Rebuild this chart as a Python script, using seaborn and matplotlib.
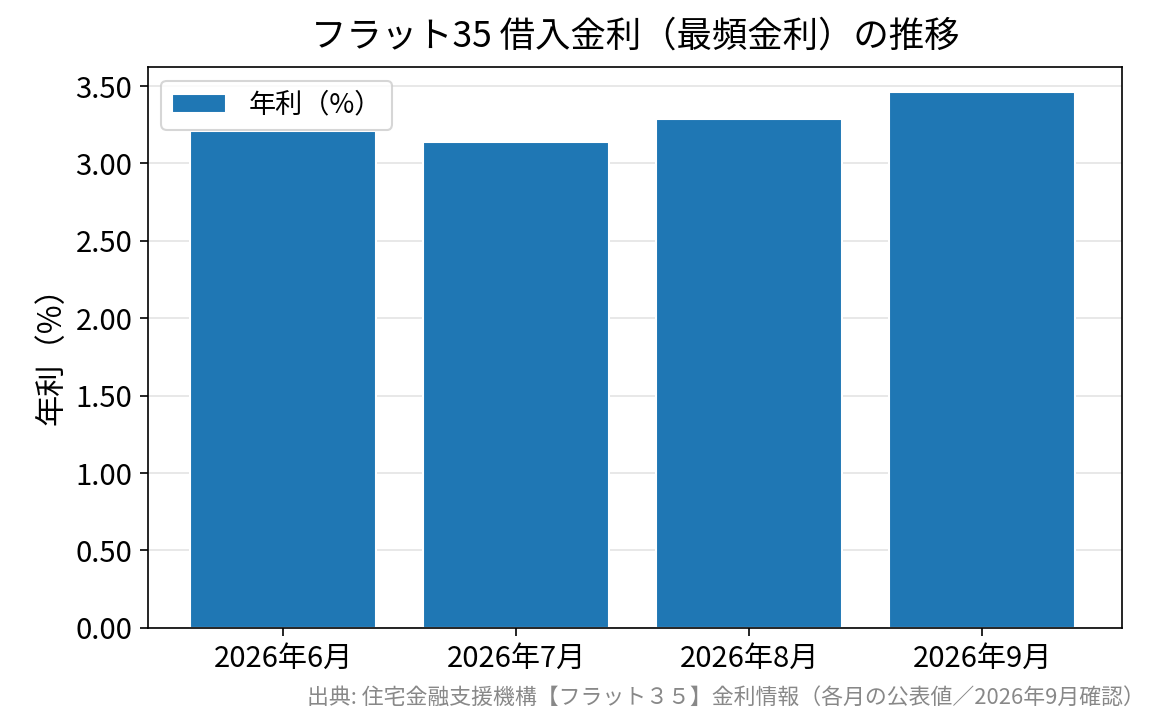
import matplotlib
matplotlib.use("Agg")
import matplotlib.pyplot as plt
import seaborn as sns
import pandas as pd

months = ["2026年6月", "2026年7月", "2026年8月", "2026年9月"]
rates = [3.21, 3.14, 3.29, 3.46]

sns.set_style("white")
plt.rcParams['font.family'] = ['Noto Sans CJK JP', 'DejaVu Sans']
plt.rcParams['text.color'] = 'black'
plt.rcParams['axes.labelcolor'] = 'black'
plt.rcParams['xtick.color'] = 'black'
plt.rcParams['ytick.color'] = 'black'

df = pd.DataFrame({"month": months, "rate": rates})

fig, ax = plt.subplots(figsize=(1165 / 150, 725 / 150), dpi=150)
sns.barplot(data=df, x="month", y="rate", color="#1f77b4", saturation=1,
            width=0.8, label="年利（%）", ax=ax, zorder=2)
ax.set_xlim(-0.58, 3.6)
ax.set_ylim(0, 3.62)
ax.set_yticks([0, 0.5, 1, 1.5, 2, 2.5, 3, 3.5])
ax.set_yticklabels([f"{v:.2f}" for v in ax.get_yticks()])
ax.grid(axis="y", color="#dddddd", alpha=0.8, zorder=0)
ax.set_axisbelow(True)
for s in ax.spines.values():
    s.set_visible(True)
    s.set_color("black")
    s.set_linewidth(0.8)
ax.tick_params(axis="both", labelsize=14, length=4, left=True, bottom=True)
ax.set_xlabel("")
ax.set_ylabel("年利（%）", fontsize=15)
ax.set_title("フラット35 借入金利（最頻金利）の推移", fontsize=17, pad=10)
ax.legend(loc="upper left", fontsize=13)
fig.subplots_adjust(left=0.127, right=0.963, top=0.907, bottom=0.134)
fig.text(0.983, 0.022, "出典: 住宅金融支援機構【フラット３５】金利情報（各月の公表値／2026年9月確認）",
         ha="right", va="bottom", fontsize=10.5, color="#888888")
fig.savefig("out.png", dpi=150)
